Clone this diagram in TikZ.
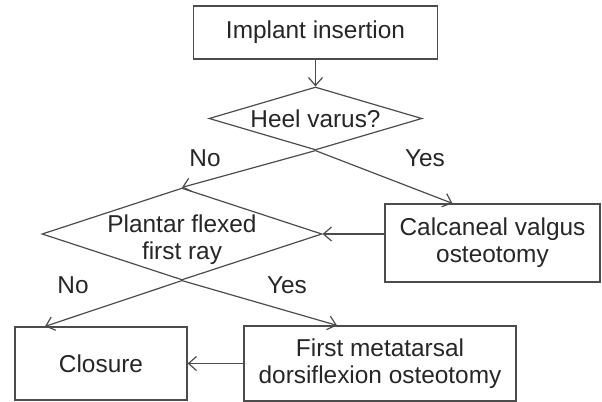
\documentclass[tikz,border=0pt]{standalone}
\usepackage{fontspec}
\setmainfont{Liberation Sans}
\usepackage{tikz}
\usetikzlibrary{arrows.meta,shapes.geometric}

\begin{document}
\begin{tikzpicture}[x=0.5pt, y=-0.5pt,
  box/.style={draw=black!70, line width=0.6pt, align=center, inner sep=2pt,
    font=\fontsize{12.2}{13.5}\selectfont, text=black!85},
  decision/.style={box, diamond, shape aspect=3, inner sep=-5pt},
  lbl/.style={font=\fontsize{12.2}{13.5}\selectfont, text=black!85},
  flow/.style={-{Straight Barb[length=4pt,width=7pt]}, draw=black!70, line width=0.6pt}]

  \useasboundingbox (0,0) rectangle (602,402);

  \node[box, minimum width=122pt, minimum height=26.5pt] (impl) at (315.5,32.5) {Implant insertion};
  \node[decision, minimum width=106.5pt, minimum height=31.5pt] (heel) at (315.5,118.5) {Heel varus?};
  \node[decision, minimum width=140pt, minimum height=46pt] (plantar) at (182,234) {\rule{0pt}{14.7pt}Plantar flexed\\first ray};
  \node[box, minimum width=107.5pt, minimum height=39pt] (calc) at (492.5,243) {Calcaneal valgus\\osteotomy};
  \node[box, minimum width=86pt, minimum height=36.5pt] (closure) at (101,363.5) {Closure};
  \node[box, minimum width=136pt, minimum height=37.5pt] (meta) at (380,363.5) {First metatarsal\\dorsiflexion osteotomy};

  % branch labels
  \node[lbl] (no1) at (205,158) {No};
  \node[lbl] (yes1) at (425,158) {Yes};
  \node[lbl] (no2) at (73,285) {No};
  \node[lbl] (yes2) at (287,285) {Yes};

  \draw[flow] (impl) -- (heel);
  \draw[flow] (heel.south) -- (plantar.north);
  \draw[flow] (heel.south) -- ([xshift=-20pt]calc.north);
  \draw[flow] (calc.west |- plantar.east) -- (plantar.east);
  \draw[flow] (plantar.south) -- ([xshift=-28pt]closure.north);
  \draw[flow] (plantar.south) -- ([xshift=-21.5pt]meta.north);
  \draw[flow] (meta) -- (closure);
\end{tikzpicture}
\end{document}
